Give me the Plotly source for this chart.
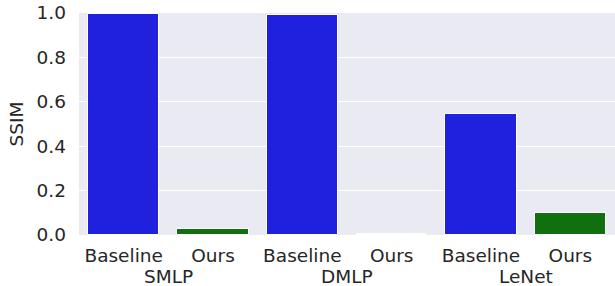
import plotly.graph_objects as go

groups = ["SMLP", "DMLP", "LeNet"]
methods = ["Baseline", "Ours"]
baseline_vals = [0.997, 0.99, 0.546]
ours_vals = [0.027, 0.004, 0.101]
y_ticks = [0.0, 0.2, 0.4, 0.6, 0.8, 1.0]

colors = {"Baseline": "#2020df", "Ours": "#107010"}

xs, ys, cols, labels = [], [], [], []
i = 0
for g, b, o in zip(groups, baseline_vals, ours_vals):
    for m, v in zip(methods, [b, o]):
        xs.append(i)
        ys.append(v)
        cols.append(colors[m])
        labels.append(m)
        i += 1

fig = go.Figure()
fig.add_trace(go.Bar(
    x=xs, y=ys, width=0.8,
    marker=dict(color=cols, line=dict(color="white", width=1)),
    showlegend=False,
))

font = dict(family="DejaVu Sans", size=18.5, color="#262626")
annotations = []
for k, g in enumerate(groups):
    annotations.append(dict(
        x=2 * k + 0.5, y=-0.185, xref="x", yref="paper",
        text=g, showarrow=False, font=font, xanchor="center", yanchor="middle",
    ))

fig.update_layout(
    width=615, height=286,
    margin=dict(l=79, r=0, t=13, b=51),
    paper_bgcolor="white",
    plot_bgcolor="#eaeaf2",
    font=font,
    bargap=0,
    annotations=annotations,
    xaxis=dict(
        range=[-0.5, 5.5], tickvals=xs, ticktext=labels,
        showgrid=False, zeroline=False, showline=False, ticks="",
        tickfont=font, automargin=False, ticklabelstandoff=7,
    ),
    yaxis=dict(
        range=[0, 1.0], tickvals=y_ticks, ticktext=[f"{t:.1f}" for t in y_ticks],
        showgrid=True, gridcolor="white", gridwidth=1, zeroline=False,
        showline=False, ticks="", tickfont=font, automargin=False,
        ticklabelstandoff=12,
        title=dict(text="SSIM", font=font, standoff=8),
    ),
)

fig.write_html("out.html", config={"displayModeBar": False},
               post_script="document.body.style.margin='0';")
